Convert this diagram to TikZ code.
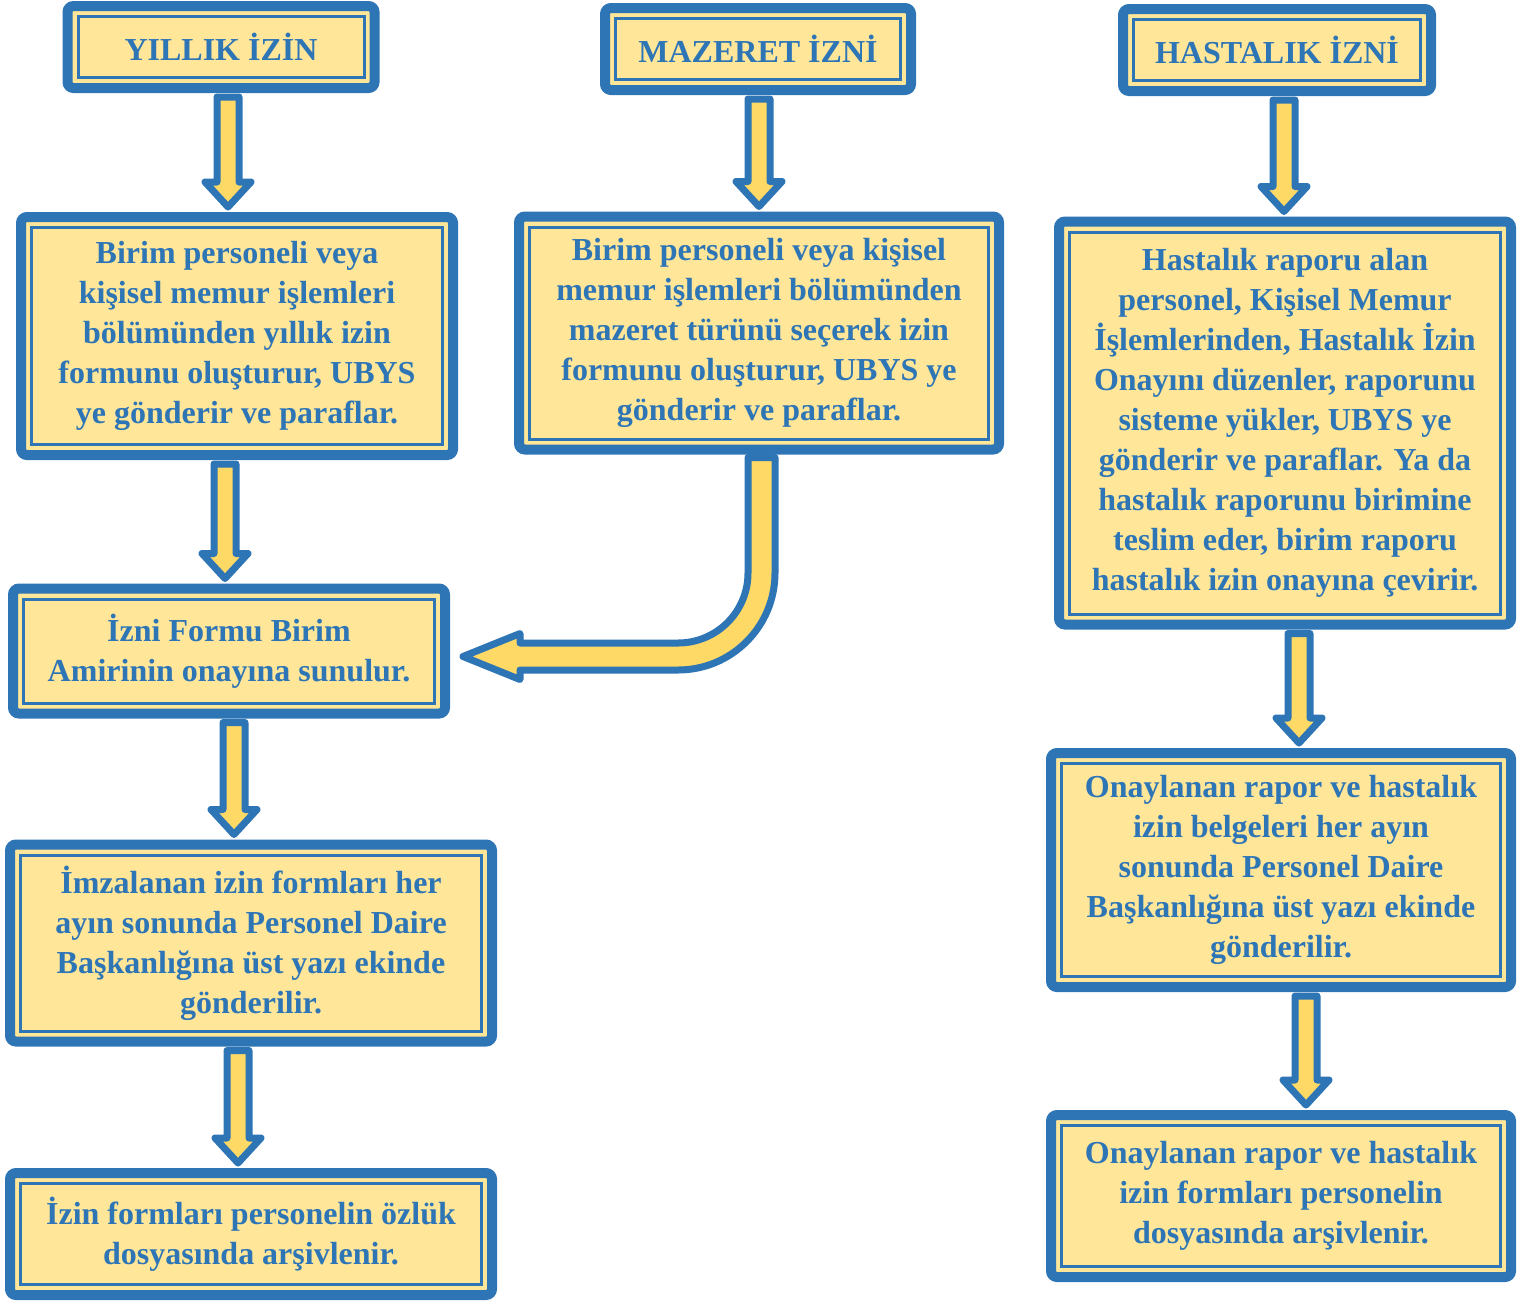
\documentclass[tikz,border=0pt]{standalone}
\usepackage{fontspec}
\setmainfont{Liberation Serif}
\usetikzlibrary{calc, positioning}
\definecolor{boxblue}{HTML}{2E75B6}
\definecolor{boxfill}{HTML}{FFE699}
\definecolor{arrowfill}{HTML}{FFD966}

% block arrow pointing down from one box to the next
\newcommand{\blockdown}[3][0]{%
  \coordinate (p) at ($(#2.south)+(#1,0)$);
  \draw[blockarrow] ($(p)+(-11,4)$) -- ($(p |- #3.north)+(-11,-30)$) -- ++(-12,0)
    -- ($(p |- #3.north)+(0,-5)$) -- ($(p |- #3.north)+(23,-30)$) -- ++(-12,0)
    -- ($(p)+(11,4)$) -- cycle;
}

\begin{document}
\begin{tikzpicture}[
    x=0.5pt, y=-0.5pt,
    box/.style={draw=boxblue, line width=5pt, fill=boxfill, rounded corners=3pt,
      text=boxblue, font=\fontsize{16}{20}\selectfont\bfseries, align=center, inner sep=0pt,
      path picture={\draw[boxblue, line width=1.5pt, sharp corners]
        ([shift={(5.25pt,5.25pt)}]path picture bounding box.south west) rectangle
        ([shift={(-5.25pt,-5.25pt)}]path picture bounding box.north east);}},
    blockarrow/.style={draw=boxblue, fill=arrowfill, line width=3.5pt, line join=round}
]
\useasboundingbox (0,0) rectangle (1525,1302);

% Titles
\node[box, minimum width=153.5pt, minimum height=41pt] (Y) at (221,47) {YILLIK İZİN};
\node[box, minimum width=153pt, minimum height=41pt] (M) at (758,49) {MAZERET İZNİ};
\node[box, minimum width=154pt, minimum height=41pt] (H) at (1277,50) {HASTALIK İZNİ};

% Steps
\node[box, minimum width=216pt, minimum height=119pt] (Y1) at (237,336) {Birim personeli veya\\ kişisel memur işlemleri\\ bölümünden yıllık izin\\ formunu oluşturur, UBYS\\ ye gönderir ve paraflar.};
\node[box, minimum width=240pt, minimum height=116.5pt] (M1) at (759,333) {Birim personeli veya kişisel\\ memur işlemleri bölümünden\\ mazeret türünü seçerek izin\\ formunu oluşturur, UBYS ye\\ gönderir ve paraflar.};
\node[box, minimum width=226pt, minimum height=201.5pt] (H1) at (1285,423) {Hastalık raporu alan\\ personel, Kişisel Memur\\ İşlemlerinden, Hastalık İzin\\ Onayını düzenler, raporunu\\ sisteme yükler, UBYS ye\\ gönderir ve paraflar. Ya da\\ hastalık raporunu birimine\\ teslim eder, birim raporu\\ hastalık izin onayına çevirir.};
\node[box, minimum width=216pt, minimum height=62.5pt] (Y2) at (229,651) {İzni Formu Birim\\ Amirinin onayına sunulur.};
\node[box, minimum width=241pt, minimum height=98.5pt] (Y3) at (251,943) {İmzalanan izin formları her\\ ayın sonunda Personel Daire\\ Başkanlığına üst yazı ekinde\\ gönderilir.};
\node[box, minimum width=241pt, minimum height=61pt] (Y4) at (251,1234) {İzin formları personelin özlük\\ dosyasında arşivlenir.};
\node[box, minimum width=230pt, minimum height=117pt] (H2) at (1281,870) {Onaylanan rapor ve hastalık\\ izin belgeleri her ayın\\ sonunda Personel Daire\\ Başkanlığına üst yazı ekinde\\ gönderilir.};
\node[box, minimum width=230pt, minimum height=81pt] (H3) at (1281,1196) {Onaylanan rapor ve hastalık\\ izin formları personelin\\ dosyasında arşivlenir.};

% Arrows
\blockdown[7]{Y}{Y1}
\blockdown[-12]{Y1}{Y2}
\blockdown[5]{Y2}{Y3}
\blockdown[-13]{Y3}{Y4}
\blockdown[1]{M}{M1}
\blockdown[7]{H}{H1}
\blockdown[14]{H1}{H2}
\blockdown[25]{H2}{H3}

% bent arrow from the mazeret box to the approval box
\coordinate (q1) at ($(M1.south)+(2.5,0)$);
\coordinate (q2) at ($(Y2.east)+(0,5.5)$);
\draw[blockarrow] ($(q1)+(-13.5,3)$) -- ($(q1 |- q2)+(-13.5,-83.5)$)
  arc[start angle=0, end angle=90, radius=70] -- ($(q2)+(70,-13.5)$)
  -- ($(q2)+(70,-23)$) -- ($(q2)+(13,0)$) -- ($(q2)+(70,23)$) -- ($(q2)+(70,13.5)$)
  -- ($(q1 |- q2)+(-83.5,13.5)$) arc[start angle=90, end angle=0, radius=97]
  -- ($(q1)+(13.5,3)$) -- cycle;

\end{tikzpicture}
\end{document}
